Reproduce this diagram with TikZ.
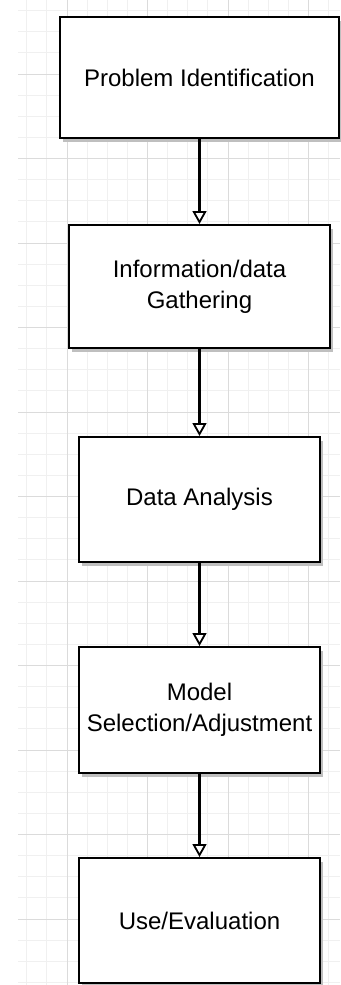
\documentclass[tikz,border=0pt]{standalone}
\usepackage{fontspec}
\setmainfont{Liberation Sans}
\usetikzlibrary{arrows.meta,shadows}

\tikzset{
  stepbox/.style={draw=black, line width=2pt, fill=white, align=center,
    font=\fontsize{24}{31}\selectfont, inner sep=0pt,
    general shadow={fill=black!25, shadow xshift=3pt, shadow yshift=-4pt}},
  flow/.style={line width=2.2pt, -{Triangle[open, length=13pt, width=14pt, line width=1.8pt]}},
  minorline/.style={draw=black!6, line width=1pt},
  majorline/.style={draw=black!14, line width=1pt}
}

\begin{document}
\begin{tikzpicture}[x=1pt, y=-1pt]
        \useasboundingbox (0,0) rectangle (340,985);
        \fill[white] (0,0) rectangle (340,985);

        % grid
        \foreach \k in {0,...,46}
            \draw[minorline] (18,{10.625+21.125*\k}) -- (340,{10.625+21.125*\k});
        \foreach \k in {0,...,15}
            \draw[minorline] ({26.75+20.125*\k},0) -- ({26.75+20.125*\k},985);
        \foreach \k in {0,...,10}
            \draw[majorline] (18,{74+84.5*\k}) -- (340,{74+84.5*\k});
        \foreach \k in {0,...,3}
            \draw[majorline] ({67+80.5*\k},0) -- ({67+80.5*\k},985);

        % steps
        \node (prob) at (199.5,77.5) [stepbox, minimum width=279pt, minimum height=121pt] {Problem Identification};
        \node (info) at (199.5,286.5) [stepbox, minimum width=261pt, minimum height=123pt] {Information/data\\Gathering};
        \node (anal) at (199.5,499.5) [stepbox, minimum width=241pt, minimum height=125pt] {Data Analysis};
        \node (model) at (199.5,710) [stepbox, minimum width=241pt, minimum height=126pt] {Model\\Selection/Adjustment};
        \node (use) at (199.5,920.5) [stepbox, minimum width=241pt, minimum height=125pt] {Use/Evaluation};

        % arrows
        \draw[flow] (prob) -- (info);
        \draw[flow] (info) -- (anal);
        \draw[flow] (anal) -- (model);
        \draw[flow] (model) -- (use);

    \end{tikzpicture}
\end{document}
